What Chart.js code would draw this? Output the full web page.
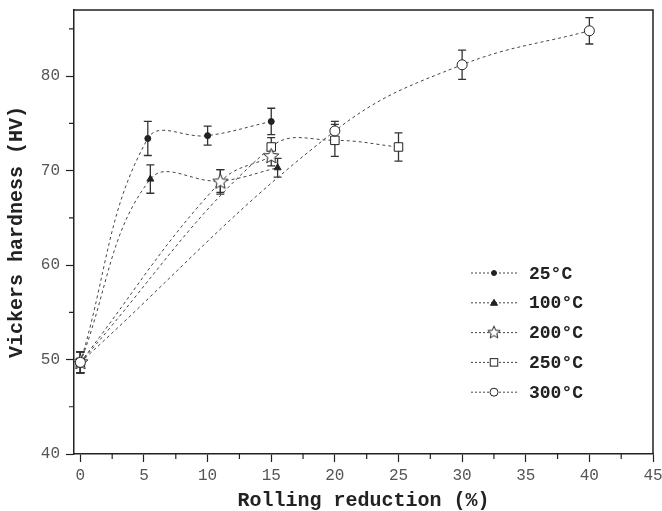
<!DOCTYPE html>
<html>
<head>
<meta charset="utf-8">
<script src="https://cdn.jsdelivr.net/npm/chart.js@4"></script>
<style>
  html, body { margin: 0; padding: 0; background: #fff; }
</style>
</head>
<body>
<canvas id="hardnessChart" width="662" height="511"></canvas>
<script>
// data
const seriesLabels = ['25°C', '100°C', '200°C', '250°C', '300°C'];

const reduction25 = [0, 5.3, 10, 15];
const hardness25 = [49.7, 73.4, 73.7, 75.2];
const error25 = [1.1, 1.8, 1.0, 1.4];

const reduction100 = [0, 5.5, 11, 15.5];
const hardness100 = [49.7, 69.1, 68.9, 70.3];
const error100 = [1.1, 1.5, 1.2, 1.0];

const reduction200 = [0, 11, 15];
const hardness200 = [49.7, 68.8, 71.5];
const error200 = [1.1, 1.3, 1.0];

const reduction250 = [0, 15, 20, 25];
const hardness250 = [49.7, 72.5, 73.2, 72.5];
const error250 = [1.1, 1.0, 1.7, 1.5];

const reduction300 = [0, 20, 30, 40];
const hardness300 = [49.7, 74.2, 81.2, 84.8];
const error300 = [1.1, 1.0, 1.55, 1.4];

const xTicks = [0, 5, 10, 15, 20, 25, 30, 35, 40, 45];
const yTicks = [40, 50, 60, 70, 80];

const ink = '#222';
const monoFont = "'Liberation Mono', 'Courier New', monospace";

// open five-point star used as a point style
function makeStar(r) {
    const c = document.createElement('canvas');
    const s = Math.ceil(r * 2 + 3);
    c.width = s; c.height = s;
    const g = c.getContext('2d');
    g.beginPath();
    for (let i = 0; i < 10; i++) {
        const rad = i % 2 === 0 ? r : r * 0.45;
        const a = -Math.PI / 2 + i * Math.PI / 5;
        const px = s / 2 + rad * Math.cos(a), py = s / 2 + rad * Math.sin(a);
        if (i === 0) g.moveTo(px, py); else g.lineTo(px, py);
    }
    g.closePath();
    g.fillStyle = '#fff';
    g.fill();
    g.strokeStyle = ink;
    g.lineWidth = 1;
    g.stroke();
    return c;
}
const starBig = makeStar(8);
const starSmall = makeStar(6.5);

function toPoints(xs, ys) {
    return xs.map((x, i) => ({ x: x, y: ys[i] }));
}

const errorSets = [error25, error100, error200, error250, error300];

const markers = [
    { style: 'circle', radius: 3, fill: ink, legendRadius: 2.5, order: 0 },
    { style: 'triangle', radius: 4, fill: ink, legendRadius: 3.5, order: 1 },
    { style: starBig, radius: 8, fill: '#fff', legendStar: starSmall, order: -2 },
    { style: 'rect', radius: 6, fill: '#fff', legendRadius: 5, order: -1 },
    { style: 'circle', radius: 5, fill: '#fff', legendRadius: 4, order: -3 }
];

const pointSets = [
    toPoints(reduction25, hardness25),
    toPoints(reduction100, hardness100),
    toPoints(reduction200, hardness200),
    toPoints(reduction250, hardness250),
    toPoints(reduction300, hardness300)
];

const datasets = pointSets.map((pts, i) => ({
    label: seriesLabels[i],
    data: pts,
    order: markers[i].order,
    showLine: true,
    tension: 0.4,
    borderColor: '#444',
    borderWidth: 1,
    borderDash: [3, 3],
    pointStyle: markers[i].style,
    pointRadius: markers[i].radius,
    pointHoverRadius: markers[i].radius,
    pointBackgroundColor: markers[i].fill,
    pointBorderColor: ink,
    pointBorderWidth: 1
}));

const extras = {
    id: 'extras',
    beforeDatasetsDraw(chart) {
        const ctx = chart.ctx;
        const xs = chart.scales.x, ys = chart.scales.y;
        ctx.save();
        ctx.strokeStyle = '#333';
        ctx.lineWidth = 1.3;
        pointSets.forEach((pts, i) => {
            pts.forEach((p, j) => {
                const e = errorSets[i][j];
                const px = xs.getPixelForValue(p.x);
                const top = ys.getPixelForValue(p.y + e);
                const bot = ys.getPixelForValue(p.y - e);
                ctx.beginPath();
                ctx.moveTo(px, top); ctx.lineTo(px, bot);
                ctx.moveTo(px - 4, top); ctx.lineTo(px + 4, top);
                ctx.moveTo(px - 4, bot); ctx.lineTo(px + 4, bot);
                ctx.stroke();
            });
        });
        ctx.restore();
    },
    afterDraw(chart) {
        const ctx = chart.ctx;
        const a = chart.chartArea;
        const xs = chart.scales.x, ys = chart.scales.y;
        ctx.save();
        ctx.strokeStyle = ink;
        ctx.lineWidth = 1.5;
        // frame top and right
        ctx.beginPath();
        ctx.moveTo(a.left, a.top); ctx.lineTo(a.right, a.top); ctx.lineTo(a.right, a.bottom);
        ctx.stroke();
        // minor ticks
        ctx.lineWidth = 1.2;
        ctx.beginPath();
        for (let k = 0; k < xTicks.length - 1; k++) {
            const px = xs.getPixelForValue(xTicks[k] + 2.5);
            ctx.moveTo(px, a.bottom); ctx.lineTo(px, a.bottom + 5);
        }
        for (let k = 0; k < yTicks.length; k++) {
            const py = ys.getPixelForValue(yTicks[k] + 5);
            ctx.moveTo(a.left, py); ctx.lineTo(a.left - 5, py);
        }
        ctx.stroke();

        // legend inside the plot
        const lx = a.left + 397, ly = a.top + 263, step = 29.8;
        ctx.font = 'bold 18px ' + monoFont;
        ctx.textBaseline = 'middle';
        ctx.textAlign = 'left';
        seriesLabels.forEach((lab, i) => {
            const y = ly + i * step;
            ctx.save();
            ctx.strokeStyle = '#444';
            ctx.lineWidth = 1;
            ctx.setLineDash([2, 2]);
            ctx.beginPath();
            ctx.moveTo(lx, y); ctx.lineTo(lx + 46, y);
            ctx.stroke();
            ctx.restore();
            const m = markers[i];
            const cx = lx + 23;
            ctx.fillStyle = m.fill;
            ctx.strokeStyle = ink;
            ctx.lineWidth = 1;
            if (m.legendStar) {
                ctx.drawImage(m.legendStar, cx - m.legendStar.width / 2, y - m.legendStar.height / 2);
            } else if (m.style === 'circle') {
                ctx.beginPath(); ctx.arc(cx, y, m.legendRadius, 0, Math.PI * 2);
                ctx.fill(); ctx.stroke();
            } else if (m.style === 'triangle') {
                const r = m.legendRadius;
                ctx.beginPath();
                ctx.moveTo(cx, y - r); ctx.lineTo(cx + r, y + r * 0.7); ctx.lineTo(cx - r, y + r * 0.7);
                ctx.closePath(); ctx.fill(); ctx.stroke();
            } else if (m.style === 'rect') {
                const h = m.legendRadius * 0.75;
                ctx.fillRect(cx - h, y - h, 2 * h, 2 * h);
                ctx.strokeRect(cx - h, y - h, 2 * h, 2 * h);
            }
            ctx.fillStyle = ink;
            ctx.fillText(lab, lx + 58, y + 1);
        });
        ctx.restore();
    }
};

const ctx = document.getElementById('hardnessChart').getContext('2d');
new Chart(ctx, {
    type: 'scatter',
    data: { datasets: datasets },
    options: {
        responsive: false,
        animation: false,
        layout: { padding: { top: 10, right: 9, left: 0, bottom: 0 } },
        plugins: {
            legend: { display: false },
            tooltip: { enabled: false }
        },
        scales: {
            x: {
                type: 'linear',
                min: -0.5,
                max: 45,
                afterFit(scale) {
                    scale.height = 57;
                    scale.paddingLeft = 0;
                    scale.paddingRight = 0;
                },
                afterBuildTicks(scale) { scale.ticks = xTicks.map(v => ({ value: v })); },
                grid: { drawOnChartArea: false, drawTicks: true, tickLength: 8, tickColor: ink, tickWidth: 1.2 },
                border: { display: true, color: ink, width: 1.5 },
                ticks: {
                    padding: 4,
                    color: '#555',
                    font: { family: monoFont, size: 16 },
                    maxRotation: 0
                },
                title: {
                    display: true,
                    text: 'Rolling reduction (%)',
                    color: ink,
                    font: { family: monoFont, size: 20, weight: 'bold' },
                    padding: { top: 0, bottom: -2 }
                }
            },
            y: {
                type: 'linear',
                min: 40,
                max: 87,
                afterFit(scale) {
                    scale.width = 74;
                    scale.paddingTop = 0;
                    scale.paddingBottom = 0;
                },
                afterBuildTicks(scale) { scale.ticks = yTicks.map(v => ({ value: v })); },
                grid: { drawOnChartArea: false, drawTicks: true, tickLength: 8, tickColor: ink, tickWidth: 1.2 },
                border: { display: true, color: ink, width: 1.5 },
                ticks: {
                    padding: 6,
                    color: '#555',
                    font: { family: monoFont, size: 16 }
                },
                title: {
                    display: true,
                    text: 'Vickers hardness (HV)',
                    color: ink,
                    font: { family: monoFont, size: 20, weight: 'bold' },
                    padding: { top: 5, bottom: 0 }
                }
            }
        }
    },
    plugins: [extras]
});
</script>
</body>
</html>
